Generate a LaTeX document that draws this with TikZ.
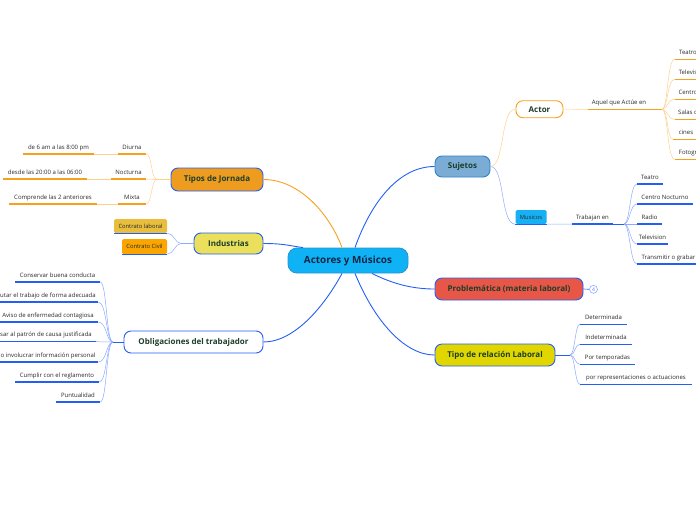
\documentclass[tikz,border=0pt]{standalone}
\usepackage{fontspec}
\setmainfont{Open Sans}
\definecolor{mblue}{RGB}{35,95,245}
\definecolor{lblue}{RGB}{140,170,255}
\definecolor{morange}{RGB}{246,160,30}
\definecolor{lorange}{RGB}{255,208,140}
\definecolor{txtgreen}{RGB}{28,62,42}
\definecolor{navy}{RGB}{20,38,70}
\definecolor{leaftext}{RGB}{40,40,40}
\definecolor{rootfill}{RGB}{14,178,245}
\definecolor{rootdraw}{RGB}{40,150,210}
\definecolor{jorfill}{RGB}{238,156,32}
\definecolor{indfill}{RGB}{234,224,92}
\definecolor{sujfill}{RGB}{122,172,214}
\definecolor{sujdraw}{RGB}{50,130,200}
\definecolor{musfill}{RGB}{22,176,245}
\definecolor{probfill}{RGB}{232,86,72}
\definecolor{tipofill}{RGB}{225,214,0}
\definecolor{clfill}{RGB}{232,190,60}
\definecolor{ccfill}{RGB}{250,165,0}
\begin{document}
\begin{tikzpicture}[x=1pt,y=-1pt,
    topic/.style={draw=mblue, line width=0.9pt, rounded corners=7pt, text=txtgreen, inner sep=0pt,
        font=\fontsize{8}{9}\selectfont\bfseries},
    leaf/.style={text=leaftext, inner xsep=0pt, inner ysep=3.3pt, text height=4.4pt, text depth=1.3pt,
        font=\fontsize{6}{7}\selectfont,
        append after command={(\tikzlastnode.south west) edge[draw=#1, line width=1.3pt] (\tikzlastnode.south east)}},
    leaf/.default=mblue,
    tag/.style={rounded corners=1.5pt, inner sep=0pt, text=leaftext, font=\fontsize{5.8}{6.5}\selectfont,
        append after command={(\tikzlastnode.south west) edge[draw=mblue, line width=1.3pt] (\tikzlastnode.south east)}},
    main/.style={draw=mblue, line width=0.9pt},
    twig/.style={draw=#1, line width=0.5pt}
]
    \useasboundingbox (0,0) rectangle (696,520);

    % central topic and main branches
    \node[topic, fill=rootfill, draw=rootdraw, minimum width=120pt, minimum height=25pt, rounded corners=9pt,
        text=navy, font=\fontsize{9.9}{11}\selectfont\bfseries] (root) at (348,260.5) {Actores y Músicos};
    \node[topic, fill=jorfill, minimum width=92pt, minimum height=23pt] (jor) at (217,179.5) {Tipos de Jornada};
    \node[topic, fill=indfill, minimum width=69pt, minimum height=21pt] (ind) at (228.5,243.5) {Industrias};
    \node[topic, fill=white, minimum width=139pt, minimum height=22pt] (obl) at (193.5,342) {Obligaciones del trabajador};
    \node[topic, fill=sujfill, draw=sujdraw, minimum width=55pt, minimum height=21pt] (suj) at (462.5,166.5) {Sujetos};
    \node[topic, fill=probfill, minimum width=148pt, minimum height=22pt] (prob) at (509,289) {Problemática (materia laboral)};
    \node[topic, fill=tipofill, minimum width=120pt, minimum height=22pt] (tipo) at (495,355) {Tipo de relación Laboral};
    \node[circle, draw=lblue, fill=white, line width=0.6pt, inner sep=0pt, minimum size=8pt, text={rgb,255:red,90;green,120;blue,220},
        font=\fontsize{5}{5}\selectfont] (n4) at (593.5,289.3) {4};

    \draw[main, draw=morange] ([xshift=-6pt]root.north) .. controls (330,215) and (300,179.5) .. (jor.east);
    \draw[main] (ind.east) .. controls (285,243.5) and (290,246) .. ([xshift=-45pt]root.north);
    \draw[main] ([xshift=-6pt]root.south) .. controls (325,305) and (295,342) .. (obl.east);
    \draw[main] ([xshift=7pt]root.north) .. controls (372,200) and (400,166.5) .. (suj.west);
    \draw[main] ([xshift=24pt]root.south) .. controls (395,285) and (415,289) .. (prob.west);
    \draw[main] ([xshift=7pt]root.south) .. controls (375,322) and (405,355) .. (tipo.west);
    \draw[main, line width=0.6pt] (prob.east) -- (n4.west);

    % Tipos de Jornada
    \node[leaf=morange, minimum width=28pt, anchor=south] (diu) at (132,154) {Diurna};
    \node[leaf=morange, minimum width=71pt, anchor=south] (diu1) at (58.5,154) {de 6 am a las 8:00 pm};
    \node[leaf=morange, minimum width=35pt, anchor=south] (noc) at (128.5,179) {Nocturna};
    \node[leaf=morange, minimum width=84pt, anchor=south] (noc1) at (45,179) {desde las 20:00 a las 06:00};
    \node[leaf=morange, minimum width=28pt, anchor=south] (mix) at (132,204) {Mixta};
    \node[leaf=morange, minimum width=88pt, anchor=south] (mix1) at (53,204) {Comprende las 2 anteriores};
    \coordinate (jorbr) at (157,179.5);
    \draw[twig=lorange] (jor.west) -- (jorbr);
    \draw[twig=lorange] (jorbr) .. controls (151,179.5) and (152,154) .. (diu.south east);
    \draw[twig=lorange] (jorbr) -- (noc.south east);
    \draw[twig=lorange] (jorbr) .. controls (151,179.5) and (152,204) .. (mix.south east);
    \draw[twig=lorange] (diu1.south east) -- (diu.south west);
    \draw[twig=lorange] (noc1.south east) -- (noc.south west);
    \draw[twig=lorange] (mix1.south east) -- (mix.south west);

    % Industrias
    \node[tag, fill=clfill, minimum width=53pt, minimum height=14pt] (cl) at (140.5,226) {Contrato laboral};
    \node[tag, fill=ccfill, minimum width=45pt, minimum height=15pt] (cc) at (144.5,246.5) {Contrato Civil};
    \coordinate (indbr) at (181,243.5);
    \draw[twig=lblue] (ind.west) -- (indbr);
    \draw[twig=lblue] (indbr) .. controls (175,243.5) and (174,233) .. (cl.south east);
    \draw[twig=lblue] (indbr) .. controls (175,243.5) and (174,254) .. (cc.south east);

    % Obligaciones del trabajador
    \node[leaf, minimum width=85pt, anchor=south] (ob1) at (57.5,282) {Conservar buena conducta};
    \node[leaf, minimum width=100pt, anchor=south] (ob2) at (48,302) {utar el trabajo de forma adecuada};
    \node[leaf, minimum width=100pt, anchor=south] (ob3) at (48,322) {Aviso de enfermedad contagiosa};
    \node[leaf, minimum width=100pt, anchor=south] (ob4) at (46,341.7) {sar al patrón de causa justificada};
    \node[leaf, minimum width=100pt, anchor=south] (ob5) at (48,362) {o involucrar información personal};
    \node[leaf, minimum width=84pt, anchor=south] (ob6) at (57,382) {Cumplir con el reglamento};
    \node[leaf, minimum width=44pt, anchor=south] (ob7) at (78,402) {Puntualidad};
    \coordinate (oblbr) at (113,342);
    \draw[main] (obl.west) -- (oblbr);
    \draw[twig=lblue] (oblbr) .. controls (106,342) and (107,282) .. (ob1.south east);
    \draw[twig=lblue] (oblbr) .. controls (106,342) and (107,302) .. (ob2.south east);
    \draw[twig=lblue] (oblbr) .. controls (106,342) and (107,322) .. (ob3.south east);
    \draw[twig=lblue] (oblbr) -- (ob4.south east);
    \draw[twig=lblue] (oblbr) .. controls (106,342) and (107,362) .. (ob5.south east);
    \draw[twig=lblue] (oblbr) .. controls (106,342) and (107,382) .. (ob6.south east);
    \draw[twig=lblue] (oblbr) .. controls (106,342) and (107,402) .. (ob7.south east);

    % Sujetos: Actor
    \node[topic, fill=white, draw=morange, minimum width=47pt, minimum height=17pt] (act) at (539.5,109.2) {Actor};
    \draw[twig=lorange] (suj.east) .. controls (505,166.5) and (500,109.2) .. (act.west);
    \node[leaf=morange, minimum width=62pt, anchor=south] (aq) at (619,109.3) {Aquel que Actúe en};
    \draw[twig=lorange] (act.east) -- (aq.south west);
    \coordinate (aqbr) at (662,109.3);
    \draw[morange, line width=0.9pt] (aq.south east) -- (aqbr);
    \node[leaf=morange, minimum width=26pt, anchor=south] (a1) at (688,59.3) {Teatro};
    \node[leaf=morange, minimum width=26pt, anchor=south] (a2) at (688,79.3) {Televis};
    \node[leaf=morange, minimum width=26pt, anchor=south] (a3) at (688,99.3) {Centro};
    \node[leaf=morange, minimum width=26pt, anchor=south] (a4) at (688,119.3) {Salas d};
    \node[leaf=morange, minimum width=26pt, anchor=south] (a5) at (686,139.3) {cines};
    \node[leaf=morange, minimum width=26pt, anchor=south] (a6) at (688,159.3) {Fotogr};
    \draw[twig=lorange] (aqbr) .. controls (668,109.3) and (667,59.3) .. (a1.south west);
    \draw[twig=lorange] (aqbr) .. controls (668,109.3) and (667,79.3) .. (a2.south west);
    \draw[twig=lorange] (aqbr) .. controls (668,109.3) and (667,99.3) .. (a3.south west);
    \draw[twig=lorange] (aqbr) .. controls (668,109.3) and (667,119.3) .. (a4.south west);
    \draw[twig=lorange] (aqbr) .. controls (668,109.3) and (667,139.3) .. (a5.south west);
    \draw[twig=lorange] (aqbr) .. controls (668,109.3) and (667,159.3) .. (a6.south west);

    % Sujetos: Musicos
    \node[tag, fill=musfill, minimum width=31pt, minimum height=14pt] (mus) at (531,217) {Musicos};
    \draw[twig=lblue] (suj.east) .. controls (505,166.5) and (500,224) .. (mus.south west);
    \node[leaf, minimum width=41pt, anchor=south] (trab) at (592.5,224) {Trabajan en};
    \draw[twig=lblue] (mus.south east) -- (trab.south west);
    \coordinate (trabbr) at (624,224);
    \draw[main] (trab.south east) -- (trabbr);
    \node[leaf, minimum width=26pt, anchor=south] (m1) at (650,184) {Teatro};
    \node[leaf, minimum width=56pt, anchor=south] (m2) at (665,204) {Centro Nocturno};
    \node[leaf, minimum width=25pt, anchor=south] (m3) at (649.5,224) {Radio};
    \node[leaf, minimum width=31pt, anchor=south] (m4) at (652.5,244) {Television};
    \node[leaf, minimum width=63pt, anchor=south] (m5) at (668.5,264) {Transmitir o grabar};
    \draw[twig=lblue] (trabbr) .. controls (630,224) and (630,184) .. (m1.south west);
    \draw[twig=lblue] (trabbr) .. controls (630,224) and (630,204) .. (m2.south west);
    \draw[twig=lblue] (trabbr) -- (m3.south west);
    \draw[twig=lblue] (trabbr) .. controls (630,224) and (630,244) .. (m4.south west);
    \draw[twig=lblue] (trabbr) .. controls (630,224) and (630,264) .. (m5.south west);

    % Tipo de relacion Laboral
    \node[leaf, minimum width=47pt, anchor=south] (t1) at (603.5,324.3) {Determinada};
    \node[leaf, minimum width=52pt, anchor=south] (t2) at (606,344.3) {Indeterminada};
    \node[leaf, minimum width=55pt, anchor=south] (t3) at (607.5,364.3) {Por temporadas};
    \node[leaf, minimum width=112pt, anchor=south] (t4) at (636,384.3) {por representaciones o actuaciones};
    \coordinate (tipobr) at (570,355);
    \draw[main] (tipo.east) -- (tipobr);
    \draw[twig=lblue] (tipobr) .. controls (575,355) and (575,324.3) .. (t1.south west);
    \draw[twig=lblue] (tipobr) .. controls (575,355) and (575,344.3) .. (t2.south west);
    \draw[twig=lblue] (tipobr) .. controls (575,355) and (575,364.3) .. (t3.south west);
    \draw[twig=lblue] (tipobr) .. controls (575,355) and (575,384.3) .. (t4.south west);
\end{tikzpicture}
\end{document}
